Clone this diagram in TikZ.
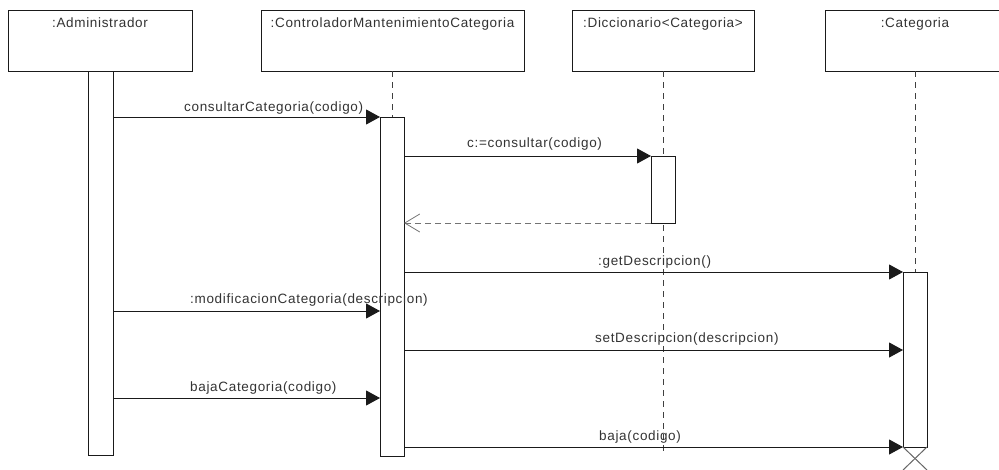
\documentclass[tikz,border=0pt]{standalone}
\usepackage{fontspec}
\setmainfont{Liberation Sans}[LetterSpace=5]
\usetikzlibrary{arrows.meta,shadows}

\definecolor{ink}{HTML}{1A1A1A}
\definecolor{txt}{HTML}{333333}

\tikzset{
  headbox/.style={draw=ink, line width=1pt, fill=white, outer sep=0pt,
    anchor=north west,
    drop shadow={shadow xshift=1.3pt, shadow yshift=-1.3pt, fill=black!40, opacity=1}},
  actbar/.style={draw=ink, line width=1pt, fill=white, outer sep=0pt,
    anchor=north west, minimum width=24pt,
    drop shadow={shadow xshift=1.3pt, shadow yshift=-1.3pt, fill=black!40, opacity=1}},
  lifeline/.style={draw=black!75, line width=1pt, dash pattern=on 6pt off 5pt},
  msg/.style={draw=ink, line width=1pt, -{Triangle[length=14pt,width=15pt]}},
  reply/.style={draw=black!55, line width=1pt, dash pattern=on 6pt off 4pt,
    -{Straight Barb[length=15pt,width=18pt,line width=0.8pt]}},
  msglabel/.style={text=txt, inner sep=0pt, anchor=base west},
  headlabel/.style={text=txt, inner sep=0pt, anchor=base},
  kill/.style={draw=black!60, line width=1pt},
}

\begin{document}
\begin{tikzpicture}[x=1pt, y=-1pt, font=\fontsize{13.5}{15}\selectfont]
\useasboundingbox (0,0) rectangle (999,469);

% message levels
\coordinate (y1) at (0,117);
\coordinate (y2) at (0,156);
\coordinate (y3) at (0,223);
\coordinate (y4) at (0,272);
\coordinate (y5) at (0,311);
\coordinate (y6) at (0,350);
\coordinate (y7) at (0,398);
\coordinate (y8) at (0,447);
\coordinate (ylife) at (0,452);

% participants
\node[headbox, minimum width=184pt, minimum height=61pt] (adm) at (8,10) {};
\node[headbox, minimum width=263pt, minimum height=61pt] (ctrl) at (261,10) {};
\node[headbox, minimum width=182pt, minimum height=61pt] (dic) at (572,10) {};
\node[headbox, minimum width=180pt, minimum height=61pt] (cat) at (825,10) {};

\node[headlabel] (admL) at (adm.north |- 0,27) {:Administrador};
\node[headlabel] (ctrlL) at (ctrl.north |- 0,27) {:ControladorMantenimientoCategoria};
\node[headlabel] (dicL) at (dic.north |- 0,27) {:Diccionario<Categoria>};
\node[headlabel] (catL) at (cat.north |- 0,27) {:Categoria};

% lifelines
\coordinate (dicEnd) at (dic.south |- ylife);
\draw[lifeline] (ctrl.south) -- (ctrl.south |- y1);
\draw[lifeline] (dic.south) -- (dicEnd);
\draw[lifeline] (cat.south) -- (cat.south |- y4);

% activation bars
\node[actbar, minimum width=25pt, minimum height=384pt] (admAct) at (88,71) {};
\node[actbar, minimum height=339pt] (ctrlAct) at (380,117) {};
\node[actbar, minimum height=67pt] (dicAct) at (651,156) {};
\node[actbar, minimum height=175pt] (catAct) at (903,272) {};

% messages
\draw[msg] (admAct.east |- y1) -- (ctrlAct.west |- y1);
\node[msglabel] (l1) at (184,111) {consultarCategoria(codigo)};

\draw[msg] (ctrlAct.east |- y2) -- (dicAct.west |- y2);
\node[msglabel] (l2) at (467,147) {c:=consultar(codigo)};

\draw[reply] (dicAct.south west) -- (ctrlAct.east |- y3);

\draw[msg] (ctrlAct.east |- y4) -- (catAct.north west);
\node[msglabel] (l4) at (598,265) {:getDescripcion()};

\draw[msg] (admAct.east |- y5) -- (ctrlAct.west |- y5);
\node[msglabel] (l5) at (190,303) {:modificacionCategoria(descripcion)};

\draw[msg] (ctrlAct.east |- y6) -- (catAct.west |- y6);
\node[msglabel] (l6) at (595,342) {setDescripcion(descripcion)};

\draw[msg] (admAct.east |- y7) -- (ctrlAct.west |- y7);
\node[msglabel] (l7) at (190,391) {bajaCategoria(codigo)};

\draw[msg] (ctrlAct.east |- y8) -- (catAct.south west);
\node[msglabel] (l8) at (599,440) {baja(codigo)};

% destruction mark
\draw[kill] (catAct.south west) -- ++(24,23);
\draw[kill] (catAct.south east) -- ++(-24,23);
\end{tikzpicture}
\end{document}
